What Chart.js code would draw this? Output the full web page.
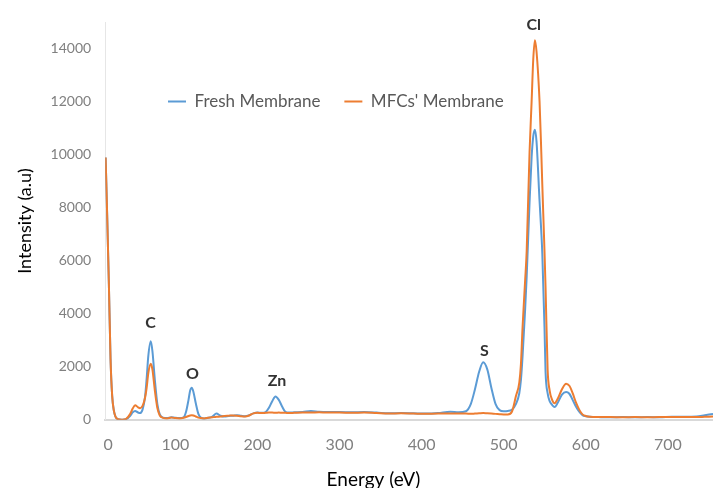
<!DOCTYPE html>
<html>
<head>
<meta charset="utf-8">
<script src="https://cdn.jsdelivr.net/npm/chart.js@4.4.1/dist/chart.umd.min.js"></script>
<style>
  html, body { margin: 0; padding: 0; background: #ffffff; }
  #wrap { width: 713px; height: 488px; }
</style>
</head>
<body>
<div id="wrap"><canvas id="c" width="713" height="488"></canvas></div>
<script>
// ---- data ----
const energy = [15,17,19,21,23,25,27,30,35,40,45,48,51,54,57,60,63,65,67,70,72,75,78,81,85,90,95,100,105,110,113,116,118,120,122,125,128,131,135,140,145,150,155,160,165,170,175,180,185,190,195,200,205,210,214,218,222,226,230,234,238,245,255,265,275,285,300,315,330,345,360,375,390,405,420,435,445,454,460,465,470,475,480,485,490,495,500,505,510,515,519,521,523,526,528,531.5,534,536,538,540,543.7,545.8,547,549.7,551,553.5,556,559,562,566,571,576,580,584,588,592,596,600,605,615,630,645,660,675,690,705,720,735,745,755];

const freshMembrane = [9900,7600,5100,2300,900,350,120,20,0,20,150,280,330,280,250,380,850,1550,2400,2960,2600,1500,600,200,80,60,90,70,60,90,300,750,1100,1210,1050,600,220,80,50,70,120,230,150,120,140,150,170,150,130,170,240,270,260,290,450,700,880,750,500,300,270,280,290,330,300,290,290,280,290,270,240,250,240,230,250,300,280,320,600,1150,1800,2170,1900,1200,600,360,320,330,380,600,1000,1500,2400,4100,5400,8200,9900,10700,10950,10500,8250,7100,6300,3500,1800,1000,700,560,480,650,950,1050,980,750,500,300,170,130,110,100,90,100,90,100,90,110,110,120,170,220];

const mfcsMembrane = [9900,7600,5100,2300,900,350,120,20,0,30,220,420,550,480,430,520,820,1200,1750,2110,1900,1100,450,160,70,50,80,60,50,70,100,140,160,170,160,120,80,60,50,70,90,110,120,140,150,160,150,130,120,160,240,260,250,260,270,270,260,270,260,260,250,260,270,270,280,270,270,260,270,250,230,240,230,220,230,230,230,230,220,230,240,250,240,230,220,210,200,200,300,900,1400,2100,3500,5200,6370,10100,12000,13600,14330,13900,12000,10100,8900,6370,5000,1900,1100,750,620,800,1150,1360,1280,1000,650,380,200,140,110,100,100,90,100,90,100,100,100,100,110,120,120];

const seriesNames = ['Fresh Membrane', "MFCs' Membrane"];
const xTickLabels = ['0','100','200','300','400','500','600','700'];
const xTickValues = [18,100,200,300,400,500,600,700];
const yTickValues = [0,2000,4000,6000,8000,10000,12000,14000];

const peakNames = ['C','O','Zn','S','Cl'];
const peakEnergy = [69.8,120.8,223.8,476.4,536.6];
const peakHeight = [3655,1737,1485,2613,14897];

// ---- chart ----
const toPoints = (xs, ys) => xs.map((x, i) => ({x: x, y: ys[i]}));

const peakLabelPlugin = {
  id: 'peakLabels',
  afterDatasetsDraw(chart) {
    const {ctx, scales} = chart;
    ctx.save();
    ctx.font = 'bold 16px Lato';
    ctx.fillStyle = '#333333';
    ctx.textAlign = 'center';
    ctx.textBaseline = 'middle';
    peakNames.forEach((n, i) => {
      ctx.fillText(n, scales.x.getPixelForValue(peakEnergy[i]), scales.y.getPixelForValue(peakHeight[i]));
    });
    ctx.restore();
  }
};

const legendPlacePlugin = {
  id: 'legendPlace',
  afterLayout(chart) {
    const lg = chart.legend;
    if (!lg) return;
    lg.left = 144; lg.right = 713;
    lg.top = 69; lg.bottom = 130;
    lg.width = lg.right - lg.left; lg.height = lg.bottom - lg.top;
  }
};

new Chart(document.getElementById('c'), {
  type: 'line',
  data: {
    datasets: [
      {
        label: seriesNames[0],
        data: toPoints(energy, freshMembrane),
        borderColor: '#5B9BD5',
        backgroundColor: '#5B9BD5',
        borderWidth: 2,
        pointRadius: 0,
        cubicInterpolationMode: 'monotone',
        fill: false,
        order: 1
      },
      {
        label: seriesNames[1],
        data: toPoints(energy, mfcsMembrane),
        borderColor: '#ED7D31',
        backgroundColor: '#ED7D31',
        borderWidth: 2,
        pointRadius: 0,
        cubicInterpolationMode: 'monotone',
        fill: false,
        order: 0
      }
    ]
  },
  options: {
    responsive: false,
    animation: false,
    events: [],
    layout: { padding: { top: 19.5, left: 4, right: 0, bottom: 0 } },
    plugins: {
      tooltip: { enabled: false },
      legend: {
        display: true,
        position: 'top',
        align: 'start',
        maxHeight: 1,
        labels: {
          usePointStyle: true,
          pointStyle: 'line',
          pointStyleWidth: 18,
          padding: 24,
          color: '#595959',
          font: { family: 'Lato', size: 17 },
          sort: (a, b) => a.datasetIndex - b.datasetIndex
        }
      }
    },
    scales: {
      x: {
        type: 'linear',
        min: 14.5,
        max: 755,
        afterBuildTicks: (axis) => { axis.ticks = xTickValues.map(v => ({ value: v })); },
        ticks: {
          autoSkip: false,
          maxRotation: 0,
          padding: 16,
          color: '#808080',
          font: { family: 'Lato', size: 16 },
          callback: (v) => xTickLabels[xTickValues.indexOf(v)]
        },
        grid: { display: false, drawTicks: false },
        border: { display: true, color: '#d9d9d9', width: 2 },
        title: {
          display: true,
          text: 'Energy (eV)\u2003\u2003\u2003\u2003\u2003',
          color: '#000000',
          font: { family: 'Lato', size: 19, lineHeight: 0.9 },
          padding: { top: 0, bottom: 0 }
        }
      },
      y: {
        min: 0,
        max: 15000,
        afterBuildTicks: (axis) => { axis.ticks = yTickValues.map(v => ({ value: v })); },
        ticks: {
          padding: 14,
          color: '#808080',
          font: { family: 'Lato', size: 14 },
          callback: (v) => String(v)
        },
        grid: { display: false, drawTicks: false },
        border: { display: true, color: '#e6e6e6', width: 1 },
        title: {
          display: true,
          text: 'Intensity (a.u)',
          color: '#000000',
          font: { family: 'Lato', size: 18 },
          padding: { top: 10, bottom: 1 }
        }
      }
    }
  },
  plugins: [peakLabelPlugin, legendPlacePlugin]
});
</script>
</body>
</html>
